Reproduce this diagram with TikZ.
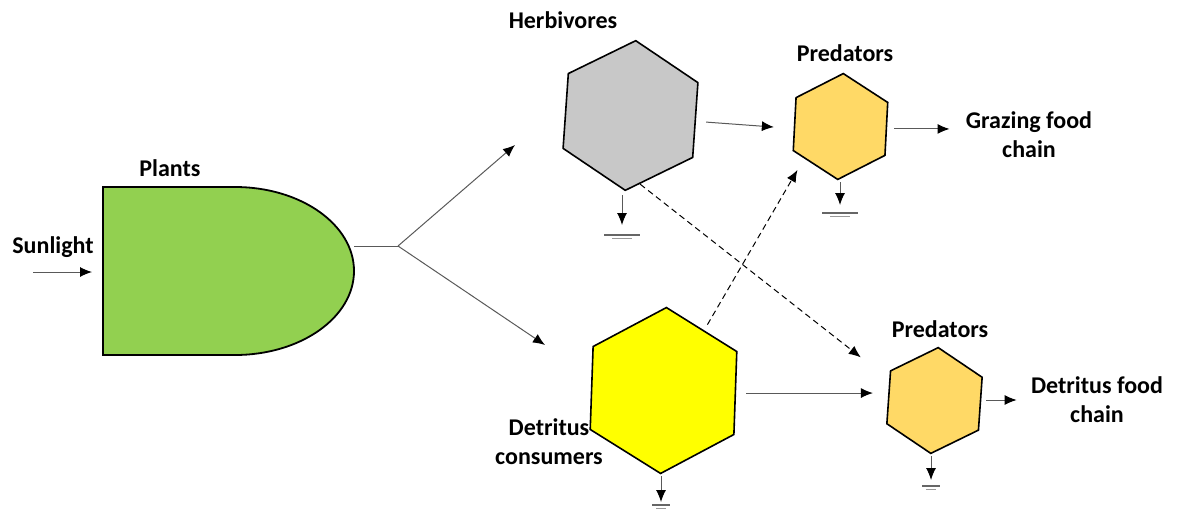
\documentclass[tikz,border=0pt]{standalone}
\usepackage{fontspec}
\setmainfont{Carlito}
\usetikzlibrary{shapes.geometric,arrows.meta}

\definecolor{plantgreen}{HTML}{92D050}
\definecolor{herbgray}{HTML}{C8C8C8}
\definecolor{predgold}{HTML}{FFD966}
\definecolor{detryellow}{HTML}{FFFF00}

\tikzstyle{hexa} = [regular polygon, regular polygon sides=6, shape border rotate=30,
  draw=black, line width=0.8pt, inner sep=0pt]
\tikzstyle{lbl} = [font=\fontsize{12}{14.5}\selectfont\bfseries, align=center, inner sep=0pt]
\tikzstyle{flow} = [draw=black!65, line width=0.5pt, -{Latex[length=6pt,width=5pt,black]}]
\tikzstyle{dashflow} = [flow, draw=black, dash pattern=on 3pt off 2pt]
\tikzstyle{gnd} = [draw=black!60, line width=0.6pt]

\begin{document}
\begin{tikzpicture}[x=0.5pt, y=-0.5pt]
  \useasboundingbox (0,0) rectangle (1178,509);

  % plants
  \draw[fill=plantgreen, line width=0.9pt] (103,187) -- (235,187)
    .. controls (300.7,187) and (354,224.6) .. (354,271)
    .. controls (354,317.4) and (300.7,355) .. (235,355) -- (103,355) -- cycle;
  \coordinate (sunsrc) at (33,272);
  \coordinate (plantsin) at (103,272);
  \coordinate (plantsout) at (354,246);
  \coordinate (fork) at (398,246);
  \coordinate (toherb) at (515,145);
  \coordinate (todetr) at (545,345);

  % consumers
  \node[hexa, fill=herbgray, minimum size=75pt, rotate=-4] (herb) at (630.5,115.5) {};
  \node[hexa, fill=predgold, minimum size=53pt, rotate=-3] (pred1) at (840.5,126.5) {};
  \node[hexa, fill=detryellow, minimum size=83pt, rotate=-2] (detr) at (663.5,390.5) {};
  \node[hexa, fill=predgold, minimum size=53pt, rotate=-4] (pred2) at (934.5,400.5) {};

  % labels
  \node[lbl] (sun) at (53,247) {Sunlight};
  \node[lbl] (plantslbl) at (170,168) {Plants};
  \node[lbl] (herblbl) at (563,20) {Herbivores};
  \node[lbl] (pred1lbl) at (845,53) {Predators};
  \node[lbl] (pred2lbl) at (940,329) {Predators};
  \node[lbl] (graz) at (1029,135) {Grazing food\\chain};
  \node[lbl] (detchain) at (1097,400) {Detritus food\\chain};
  \node[lbl] (detlbl) at (549,442) {Detritus\\consumers};

  % energy flow
  \draw[flow, shorten >=5.5pt] (sunsrc) -- (plantsin);
  \draw[flow, -] (plantsout) -- (fork);
  \draw[flow] (fork) -- (toherb);
  \draw[flow] (fork) -- (todetr);
  \draw[flow] ([shift={(10,2)}]herb.east) -- ([shift={(-20,3)}]pred1.west);
  \draw[flow, shorten <=3.5pt, shorten >=8pt] (pred1.east) -- (pred1.east -| graz.west);
  \draw[flow, shorten <=5pt, shorten >=7.5pt] (detr.east) -- (detr.east -| pred2.west);
  \draw[flow, shorten <=2.5pt, shorten >=7pt] (detchain.west -| pred2.east) -- (detchain.west);
  \draw[dashflow] ([shift={(15,-7)}]herb.corner 4) -- ([shift={(-29,-13)}]pred2.corner 2);
  \draw[dashflow] ([shift={(41,18)}]detr.corner 1) -- ([shift={(5,19)}]pred1.corner 3);

  % heat loss
  \coordinate (g1) at (622,235);
  \coordinate (g2) at (840,213);
  \coordinate (g3) at (661,505);
  \coordinate (g4) at (931,486);
  \draw[flow, shorten <=2pt] (herb.corner 4 -| g1) -- ([yshift=5pt]g1);
  \draw[flow, shorten <=1pt] (pred1.corner 4 -| g2) -- ([yshift=4pt]g2);
  \draw[flow, shorten <=1pt] (detr.corner 4 -| g3) -- ([yshift=1.5pt]g3);
  \draw[flow, shorten <=1pt] (pred2.corner 4 -| g4) -- ([yshift=3pt]g4);
  \foreach \g/\w in {g1/9, g2/9, g3/4.5, g4/4.5} {
    \draw[gnd] ([xshift=-\w pt]\g) -- ([xshift=\w pt]\g);
    \draw[gnd, draw=black!40] ([xshift=-0.55*\w pt, yshift=-1.6pt]\g) -- ([xshift=0.55*\w pt, yshift=-1.6pt]\g);
  }
\end{tikzpicture}
\end{document}
